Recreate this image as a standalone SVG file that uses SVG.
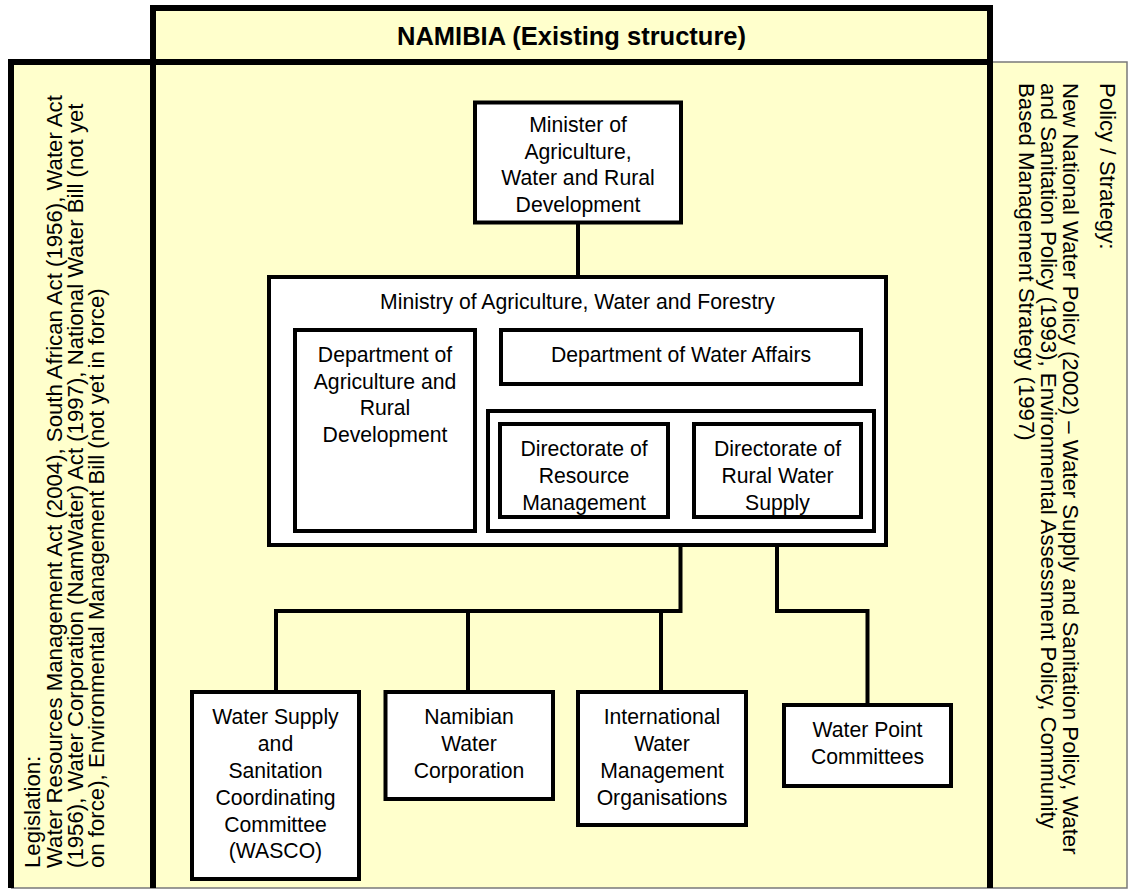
<svg xmlns="http://www.w3.org/2000/svg" width="1130" height="891" viewBox="0 0 1130 891">
<style>
.panel{fill:#FFFFCC}
.box{fill:#FFFFFF;stroke:#000;stroke-width:4}
.thick{stroke:#000;stroke-width:6;fill:none}
.thin{stroke:#7a7a7a;stroke-width:1.5;fill:none}
.conn{stroke:#000;stroke-width:4;fill:none;stroke-linejoin:miter}
text{font-family:"Liberation Sans",Arial,sans-serif;font-size:21.2px;fill:#000}
.c{text-anchor:middle}
.v{font-size:22.2px}
.title{font-size:25.5px;font-weight:bold}
</style>
<rect width="1130" height="891" fill="#FFFFFF"/>
<g id="frame">
<rect class="panel" x="11" y="62" width="142" height="826"/>
<rect class="panel" x="153" y="62" width="837" height="826"/>
<rect class="panel" x="990" y="62" width="137" height="826"/>
<rect class="panel" x="153" y="8" width="837" height="54"/>
<path class="thin" d="M993 62H1127V888H11"/>
<rect class="thick" x="153" y="8" width="837" height="54"/>
<path class="thick" d="M8 62H990M11 59V888M153 62V888M990 62V888"/>
</g>
<g id="title"><text class="c title" x="571.5" y="45">NAMIBIA (Existing structure)</text></g>
<g id="legislation">
<text class="v" transform="translate(40,868) rotate(-90)">Legislation:</text>
<text class="v" transform="translate(61.5,868) rotate(-90)">Water Resources Management Act (2004), South African Act (1956), Water Act</text>
<text class="v" transform="translate(82.5,868) rotate(-90)">(1956), Water Corporation (NamWater) Act (1997), National Water Bill (not yet</text>
<text class="v" transform="translate(103.5,868) rotate(-90)">on force), Environmental Management Bill (not yet in force)</text>
</g>
<g id="policy">
<text class="v" transform="translate(1100,83) rotate(90)">Policy / Strategy:</text>
<text class="v" transform="translate(1063,83) rotate(90)">New National Water Policy (2002) – Water Supply and Sanitation Policy, Water</text>
<text class="v" transform="translate(1041,83) rotate(90)">and Sanitation Policy (1993), Environmental Assessment Policy, Community</text>
<text class="v" transform="translate(1019,83) rotate(90)">Based Management Strategy (1997)</text>
</g>
<g id="connectors">
<path class="conn" d="M578 222V277"/>
<path class="conn" d="M680.5 384V411"/>
<path class="conn" d="M680.5 531V611H276V692M468 611V692M661 611V692"/>
<path class="conn" d="M777 531V611H867.5V705"/>
</g>
<g id="minister">
<rect class="box" x="475" y="102.5" width="206" height="120"/>
<text class="c" x="578" y="132">Minister of</text>
<text class="c" x="578" y="158.5">Agriculture,</text>
<text class="c" x="578" y="185">Water and Rural</text>
<text class="c" x="578" y="211.5">Development</text>
</g>
<g id="ministry">
<rect class="box" x="269" y="277" width="617" height="268"/>
<text class="c" x="577.5" y="308.6">Ministry of Agriculture, Water and Forestry</text>
</g>
<g id="dept-agri">
<rect class="box" x="295" y="330" width="180" height="201"/>
<text class="c" x="385" y="362">Department of</text>
<text class="c" x="385" y="388.5">Agriculture and</text>
<text class="c" x="385" y="415">Rural</text>
<text class="c" x="385" y="441.5">Development</text>
</g>
<g id="dept-water">
<rect class="box" x="501" y="330" width="360" height="54"/>
<text class="c" x="681" y="362">Department of Water Affairs</text>
</g>
<g id="directorates">
<rect class="box" x="488" y="411" width="386" height="120"/>
</g>
<g id="dir-resource">
<rect class="box" x="500" y="424" width="168" height="93"/>
<text class="c" x="584" y="455.5">Directorate of</text>
<text class="c" x="584" y="482.5">Resource</text>
<text class="c" x="584" y="509.5">Management</text>
</g>
<g id="dir-rural">
<rect class="box" x="694" y="424" width="167" height="93"/>
<text class="c" x="777.5" y="455.5">Directorate of</text>
<text class="c" x="777.5" y="482.5">Rural Water</text>
<text class="c" x="777.5" y="509.5">Supply</text>
</g>
<g id="wasco">
<rect class="box" x="192" y="692" width="167" height="187"/>
<text class="c" x="275.5" y="724">Water Supply</text>
<text class="c" x="275.5" y="751">and</text>
<text class="c" x="275.5" y="778">Sanitation</text>
<text class="c" x="275.5" y="805">Coordinating</text>
<text class="c" x="275.5" y="832">Committee</text>
<text class="c" x="275.5" y="858">(WASCO)</text>
</g>
<g id="namwater">
<rect class="box" x="385.5" y="692" width="167.5" height="107"/>
<text class="c" x="469" y="724">Namibian</text>
<text class="c" x="469" y="751">Water</text>
<text class="c" x="469" y="778">Corporation</text>
</g>
<g id="international">
<rect class="box" x="578" y="692" width="168" height="133"/>
<text class="c" x="662" y="724">International</text>
<text class="c" x="662" y="751">Water</text>
<text class="c" x="662" y="778">Management</text>
<text class="c" x="662" y="805">Organisations</text>
</g>
<g id="water-point">
<rect class="box" x="784" y="705" width="167" height="81"/>
<text class="c" x="867.5" y="737">Water Point</text>
<text class="c" x="867.5" y="763.5">Committees</text>
</g>
</svg>
